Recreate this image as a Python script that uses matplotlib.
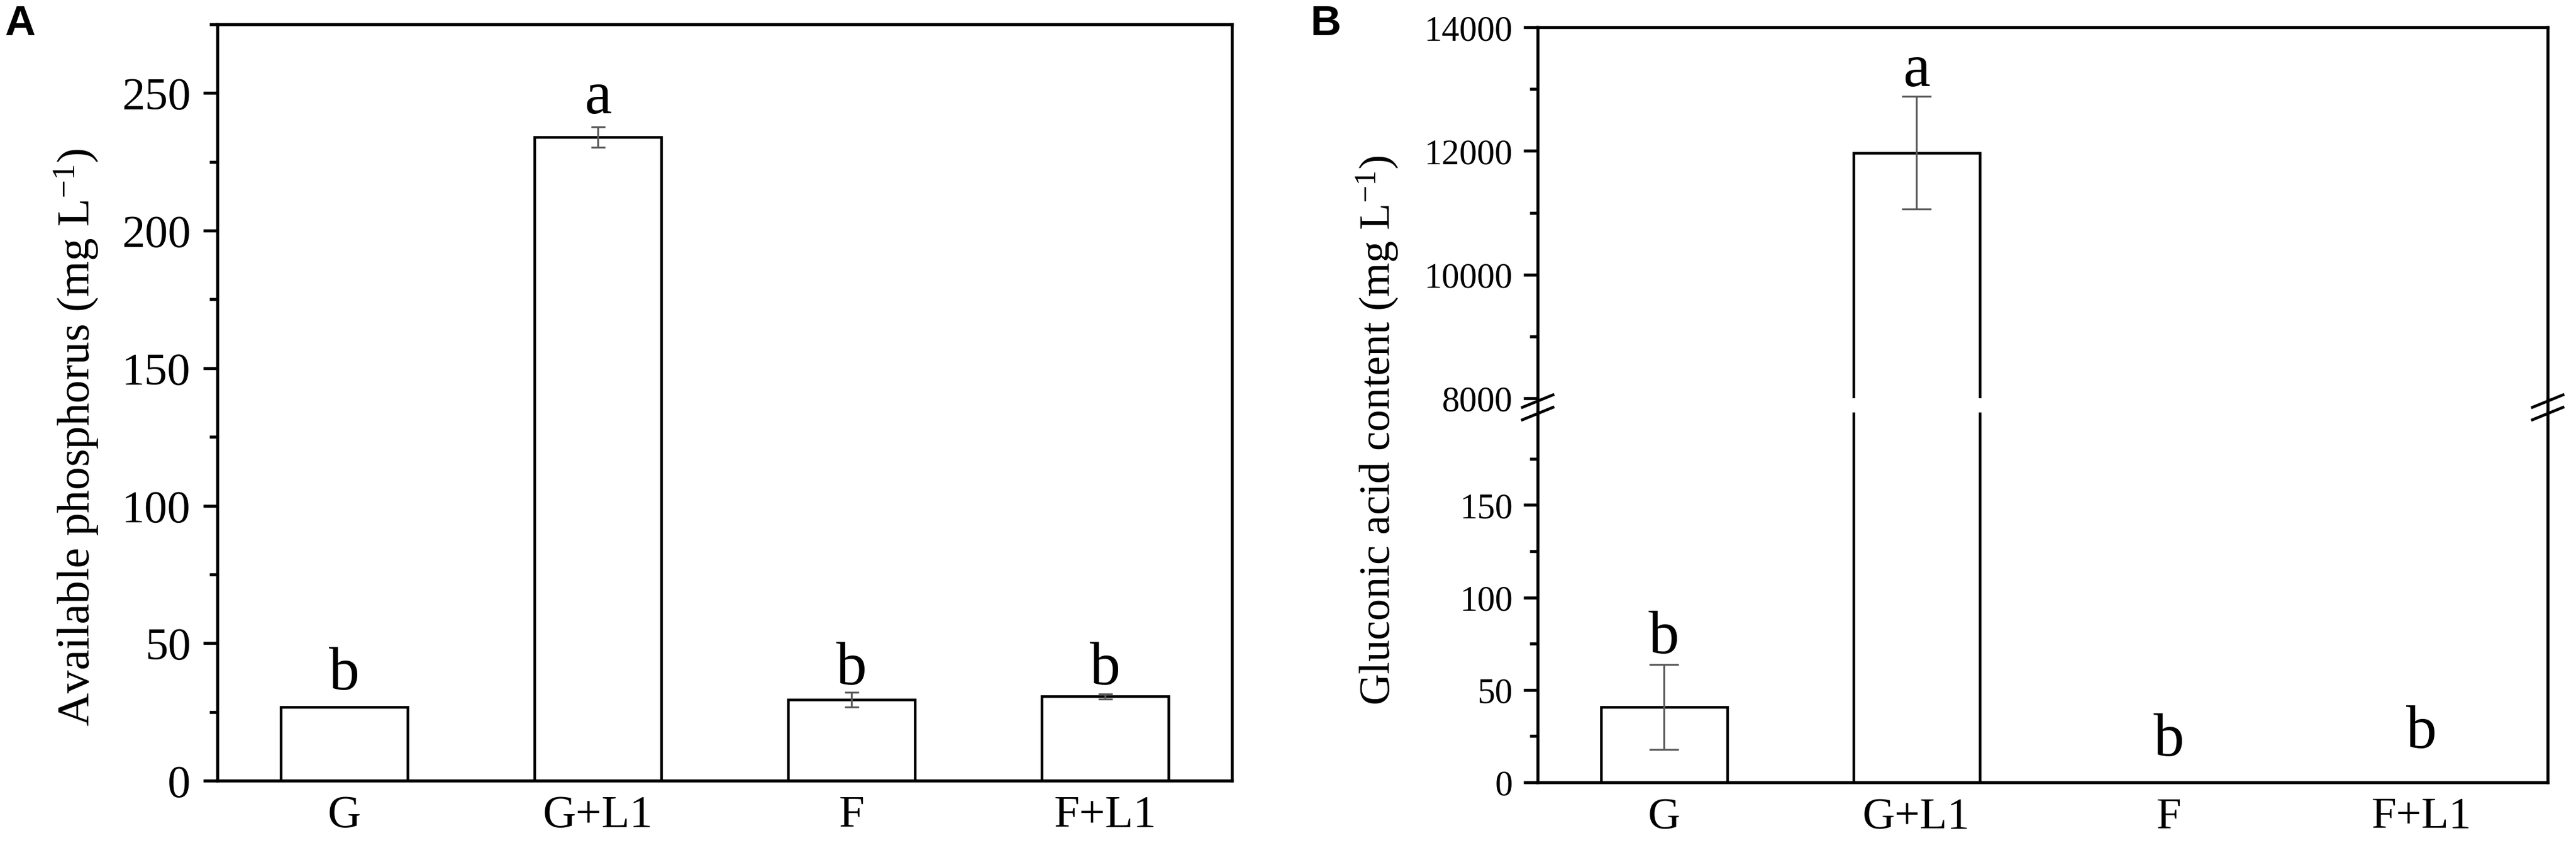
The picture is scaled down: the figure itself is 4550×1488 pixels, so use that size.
import matplotlib
matplotlib.use("Agg")
import matplotlib.pyplot as plt
from matplotlib.lines import Line2D
from matplotlib.ticker import MultipleLocator

plt.rcParams['font.family'] = ['Liberation Serif', 'DejaVu Serif']
plt.rcParams['mathtext.fontset'] = 'custom'
plt.rcParams['mathtext.rm'] = 'Liberation Serif'
plt.rcParams['mathtext.it'] = 'Liberation Serif:italic'
plt.rcParams['mathtext.bf'] = 'Liberation Serif:bold'

# ---------------- data ----------------
categories = ['G', 'G+L1', 'F', 'F+L1']

phos_values = [26.7, 234.0, 29.5, 30.6]
phos_errors = [0.0, 3.8, 2.7, 1.0]
phos_letters = ['b', 'a', 'b', 'b']
phos_letter_y = [33.4, 242.8, 35.2, 35.2]

glu_values = [40.7, 11970.0, 0.0, 0.0]
glu_errors = [23.0, 910.0, 0.0, 0.0]
glu_letters = ['b', 'a', 'b', 'b']
glu_letter_y = [70.0, 13055.0, 14.7, 19.0]

phos_ylabel = r'Available phosphorus (mg L$^{-1}$)'
glu_ylabel = r'Gluconic acid content (mg L$^{-1}$)'

# ---------------- figure ----------------
W, H = 4550, 1489
DPI = 300
fig = plt.figure(figsize=(W / DPI, H / DPI), dpi=DPI)


def rect(left, top, right, bottom):
    return [left / W, 1 - bottom / H, (right - left) / W, (bottom - top) / H]


SPINE_LW = 1.3
BAR_LW = 1.1
ERR_COLOR = '#5a5a5a'
x = list(range(len(categories)))


def style_axis(ax, tick_size, pad):
    for s in ax.spines.values():
        s.set_linewidth(SPINE_LW)
    ax.tick_params(axis='y', which='major', direction='out', length=6, width=SPINE_LW,
                   labelsize=tick_size, pad=pad, right=False)
    ax.tick_params(axis='y', which='minor', direction='out', length=3.4, width=SPINE_LW,
                   right=False)
    ax.tick_params(axis='x', which='both', length=0, bottom=False, top=False)
    ax.set_xlim(-0.5, len(categories) - 0.5)


# ---------- Panel A ----------
axA = fig.add_axes(rect(384, 44, 2176, 1379))
axA.bar(x, phos_values, width=0.5, color='white', edgecolor='black', linewidth=BAR_LW, zorder=2)
for xi, v, e in zip(x, phos_values, phos_errors):
    if e > 0:
        axA.errorbar(xi, v, yerr=e, fmt='none', ecolor=ERR_COLOR, elinewidth=0.8,
                     capsize=3.0, capthick=0.8, zorder=3)
for xi, t, ty in zip(x, phos_letters, phos_letter_y):
    axA.text(xi, ty, t, ha='center', va='baseline', fontsize=26)
axA.set_ylim(0, 275)
axA.yaxis.set_major_locator(MultipleLocator(50))
axA.yaxis.set_minor_locator(MultipleLocator(25))
axA.set_xticks(x)
axA.set_xticklabels(categories, fontsize=19.5)
style_axis(axA, 19.5, 5.3)
axA.tick_params(axis='x', pad=6)
fig.text(135 / W, 1 - 772 / H, phos_ylabel, rotation=90, ha='center', va='center', fontsize=19.5)

# ---------- Panel B (broken axis) ----------
B_left, B_right = 2716, 4500
axBu = fig.add_axes(rect(B_left, 49, B_right, 704))
axBl = fig.add_axes(rect(B_left, 729, B_right, 1382))

for ax in (axBu, axBl):
    ax.bar(x, glu_values, width=0.5, color='white', edgecolor='black', linewidth=BAR_LW, zorder=2)
    for xi, v, e in zip(x, glu_values, glu_errors):
        if e > 0:
            ax.errorbar(xi, v, yerr=e, fmt='none', ecolor=ERR_COLOR, elinewidth=0.8,
                        capsize=6.2, capthick=0.8, zorder=3)
    style_axis(ax, 15, 4.6)

axBu.set_ylim(8000, 14000)
axBu.yaxis.set_major_locator(MultipleLocator(2000))
axBu.yaxis.set_minor_locator(MultipleLocator(1000))
axBu.spines['bottom'].set_visible(False)
axBu.set_xticks([])

axBl.set_ylim(0, 200)
axBl.set_yticks([0, 50, 100, 150])
axBl.set_yticks([25, 75, 125, 175], minor=True)
axBl.spines['top'].set_visible(False)
axBl.set_xticks(x)
axBl.set_xticklabels(categories, fontsize=19)
axBl.tick_params(axis='x', pad=6)

for xi, t, ty in zip(x, glu_letters, glu_letter_y):
    target = axBu if ty >= 8000 else axBl
    target.text(xi, ty, t, ha='center', va='baseline', fontsize=26)

# connect spines through the gap and draw break marks
for xs in (B_left, B_right):
    fig.add_artist(Line2D([xs / W, xs / W], [1 - 704 / H, 1 - 729 / H],
                          color='black', linewidth=SPINE_LW))
    for yc in (709, 731):
        fig.add_artist(Line2D([(xs - 27) / W, (xs + 27) / W],
                              [1 - (yc + 11) / H, 1 - (yc - 11) / H],
                              color='black', linewidth=1.2))

fig.text(2433 / W, 1 - 760 / H, glu_ylabel, rotation=90, ha='center', va='center', fontsize=18.5)

# panel letters
fig.text(8 / W, 1 - 8 / H, 'A', ha='left', va='top', fontsize=18, fontweight='bold',
         family='Liberation Sans')
fig.text(2315 / W, 1 - 8 / H, 'B', ha='left', va='top', fontsize=18, fontweight='bold',
         family='Liberation Sans')

fig.savefig('out.png', dpi=DPI, facecolor='white')
